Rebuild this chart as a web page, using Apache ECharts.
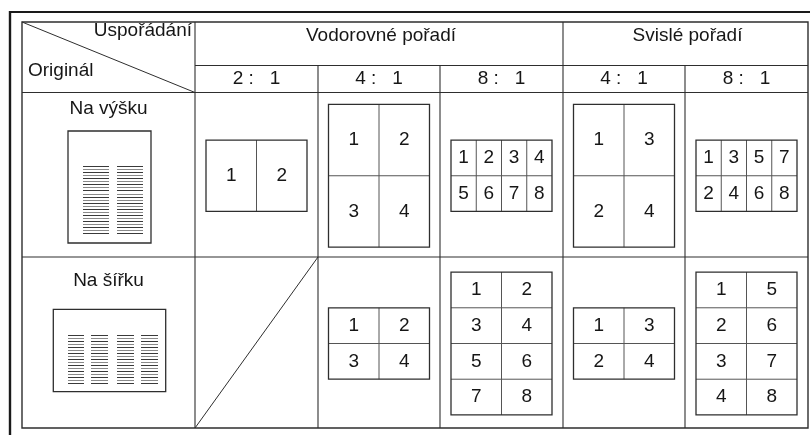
<!DOCTYPE html>
<html><head><meta charset="utf-8">
<script src="https://cdn.jsdelivr.net/npm/echarts@6/dist/echarts.min.js"></script>
<style>html,body{margin:0;padding:0;background:#fff}#c{width:810px;height:435px}</style>
</head><body><div id="c"></div>
<script>
// ---------- data ----------
const cornerTop = 'Uspořádání';
const cornerBottom = 'Originál';
const groupHeaders = ['Vodorovné pořadí', 'Svislé pořadí'];
const groupSpans = [3, 2];
const ratios = [[2, 1], [4, 1], [8, 1], [4, 1], [8, 1]];
const originals = ['Na výšku', 'Na šířku'];
const originalOrientation = ['portrait', 'landscape'];
const iconTextColumns = [2, 4];
const iconTextLines = [23, 17];
const portraitOrders = [
  [[1, 2]],
  [[1, 2], [3, 4]],
  [[1, 2, 3, 4], [5, 6, 7, 8]],
  [[1, 3], [2, 4]],
  [[1, 3, 5, 7], [2, 4, 6, 8]]
];
const landscapeOrders = [
  null,
  [[1, 2], [3, 4]],
  [[1, 2], [3, 4], [5, 6], [7, 8]],
  [[1, 3], [2, 4]],
  [[1, 5], [2, 6], [3, 7], [4, 8]]
];
const orderRows = [portraitOrders, landscapeOrders];

// ---------- layout / style ----------
const LAY = {
  W: 810, H: 435,
  frame: { x: 10, y: 12 },
  colEdges: [22, 195, 318, 440, 563, 685, 808],
  rowEdges: [22, 65.5, 92.5, 257, 428],
  groupTextY: 35.5,
  groupTextDx: 2,
  cornerTop: { x: 192, y: 31 },
  cornerBottom: { x: 28, y: 71 },
  labelY: [108.7, 281],
  icon: [
    { cx: 109.5, cy: 187, w: 83, h: 112, cols: [[15, 41], [49, 75]], y0: 35, y1: 102.3 },
    { cx: 109.5, cy: 350.5, w: 112.4, h: 82.4, cols: [[14.4, 31], [37.7, 54.4], [64, 80.7], [87.7, 104.4]], y0: 25.7, y1: 74 }
  ],
  sheetW: 101,
  pageAspect: 1.414,
  sheetDy: 1
};
const FONT = "'Liberation Sans', Arial, Helvetica, sans-serif";
const INK = '#161616';
const RULE = '#2e2e2e';
const DIV = '#555';

function txt(api, x, y, s, size, align) {
  const p = api.coord([x, y]);
  return { type: 'text', style: { text: s, x: p[0], y: p[1], fill: INK, fontSize: size, fontFamily: FONT, align: align || 'center', verticalAlign: 'middle' } };
}
function seg(api, x1, y1, x2, y2, w, c) {
  const a = api.coord([x1, y1]), b = api.coord([x2, y2]);
  return { type: 'line', shape: { x1: a[0], y1: a[1], x2: b[0], y2: b[1] }, style: { stroke: c || RULE, lineWidth: w || 1 } };
}
function crispH(api, x1, x2, y, c) {
  const a = api.coord([x1, y]), b = api.coord([x2, y]);
  const py = Math.round(a[1]) + 0.5;
  return { type: 'line', shape: { x1: Math.round(a[0]), y1: py, x2: Math.round(b[0]), y2: py }, style: { stroke: c, lineWidth: 1 } };
}
function box(api, x, y, w, h, lw, c) {
  const a = api.coord([x, y]), b = api.coord([x + w, y + h]);
  return { type: 'rect', shape: { x: a[0], y: a[1], width: b[0] - a[0], height: b[1] - a[1] }, style: { fill: 'none', stroke: c || RULE, lineWidth: lw || 1 } };
}

function renderTable(params, api) {
  const C = LAY.colEdges, R = LAY.rowEdges, ch = [];
  ch.push(seg(api, LAY.frame.x, LAY.frame.y, LAY.W, LAY.frame.y, 2.2, '#1a1a1a'));
  ch.push(seg(api, LAY.frame.x, LAY.frame.y - 1, LAY.frame.x, LAY.H, 2.4, '#1a1a1a'));
  ch.push(box(api, C[0], R[0], C[6] - C[0], R[4] - R[0], 1.4));
  ch.push(seg(api, C[1], R[1], C[6], R[1], 1.1));
  ch.push(seg(api, C[0], R[2], C[6], R[2], 1.1));
  ch.push(seg(api, C[0], R[3], C[6], R[3], 1.1));
  const groupEdges = [1];
  groupSpans.forEach(s => groupEdges.push(groupEdges[groupEdges.length - 1] + s));
  for (let c = 1; c < C.length - 1; c++) {
    const top = groupEdges.indexOf(c) >= 0 ? R[0] : R[1];
    ch.push(seg(api, C[c], top, C[c], R[4], 1.1));
  }
  ch.push(seg(api, C[0], R[0], C[1], R[2], 1));
  ch.push(txt(api, LAY.cornerTop.x, LAY.cornerTop.y, cornerTop, 19, 'right'));
  ch.push(txt(api, LAY.cornerBottom.x, LAY.cornerBottom.y, cornerBottom, 19, 'left'));
  groupHeaders.forEach((g, i) => {
    const x = (C[groupEdges[i]] + C[groupEdges[i + 1]]) / 2 + LAY.groupTextDx;
    ch.push(txt(api, x, LAY.groupTextY, g, 19));
  });
  ratios.forEach((r, k) => {
    const x = (C[k + 1] + C[k + 2]) / 2;
    ch.push(txt(api, x, (R[1] + R[2]) / 2, r[0] + ' :   ' + r[1], 19));
  });
  return { type: 'group', children: ch };
}

function renderOriginal(params, api) {
  const r = api.value(0);
  const C = LAY.colEdges, ch = [];
  ch.push(txt(api, (C[0] + C[1]) / 2, LAY.labelY[r], originals[r], 19));
  const ic = LAY.icon[r];
  const x0 = ic.cx - ic.w / 2, y0 = ic.cy - ic.h / 2;
  const n = iconTextLines[r];
  for (let c = 0; c < iconTextColumns[r]; c++) {
    const xs = ic.cols[c];
    for (let i = 0; i < n; i++) {
      const y = y0 + ic.y0 + (ic.y1 - ic.y0) * i / (n - 1);
      ch.push(crispH(api, x0 + xs[0], x0 + xs[1], y, i % 2 ? '#8a8a8a' : '#3a3a3a'));
    }
  }
  ch.push(box(api, x0, y0, ic.w, ic.h, 1.3));
  return { type: 'group', children: ch };
}

function renderLayout(params, api) {
  const r = api.value(0), k = api.value(1);
  const C = LAY.colEdges, R = LAY.rowEdges, ch = [];
  const orders = orderRows[r][k];
  const top = R[2 + r], bot = R[3 + r], left = C[k + 1], right = C[k + 2];
  if (!orders) {
    ch.push(seg(api, left, bot, right, top, 1));
    return { type: 'group', children: ch };
  }
  const rows = orders.length, cols = orders[0].length;
  const pw = LAY.sheetW / cols;
  const ph = originalOrientation[r] === 'portrait' ? pw * LAY.pageAspect : pw / LAY.pageAspect;
  const sh = ph * rows;
  const cx = (left + right) / 2, cy = (top + bot) / 2 + LAY.sheetDy;
  const x0 = cx - LAY.sheetW / 2, y0 = cy - sh / 2;
  for (let c = 1; c < cols; c++) ch.push(seg(api, x0 + c * pw, y0, x0 + c * pw, y0 + sh, 1, DIV));
  for (let i = 1; i < rows; i++) ch.push(seg(api, x0, y0 + i * ph, x0 + LAY.sheetW, y0 + i * ph, 1, DIV));
  ch.push(box(api, x0, y0, LAY.sheetW, sh, 1.3));
  orders.forEach((row, i) => row.forEach((num, c) => {
    ch.push(txt(api, x0 + (c + 0.5) * pw, y0 + (i + 0.5) * ph, String(num), 19));
  }));
  return { type: 'group', children: ch };
}

const layoutItems = [];
orderRows.forEach((rowArr, r) => rowArr.forEach((o, k) => layoutItems.push([r, k])));

const chart = echarts.init(document.getElementById('c'), null, { renderer: 'canvas' });
chart.setOption({
  animation: false,
  backgroundColor: '#fff',
  grid: { left: 0, right: 0, top: 0, bottom: 0, containLabel: false },
  xAxis: { type: 'value', min: 0, max: LAY.W, show: false },
  yAxis: { type: 'value', min: 0, max: LAY.H, inverse: true, show: false },
  series: [
    { type: 'custom', name: 'table', clip: false, silent: true, data: [[0, 0]], renderItem: renderTable },
    { type: 'custom', name: 'originals', clip: false, silent: true, data: originals.map((o, i) => [i, 0]), renderItem: renderOriginal },
    { type: 'custom', name: 'layouts', clip: false, silent: true, data: layoutItems, renderItem: renderLayout }
  ]
});
</script>
</body></html>
